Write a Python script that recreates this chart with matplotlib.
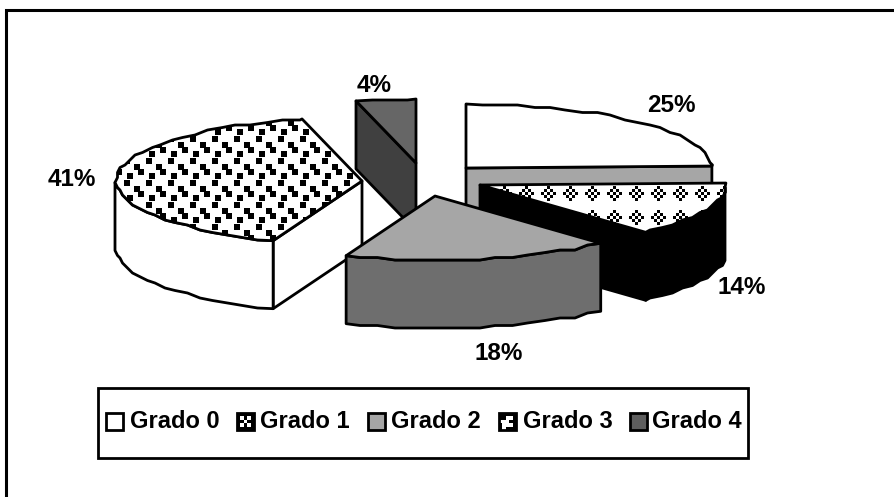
# -*- coding: utf-8 -*-

import numpy as np
import matplotlib
matplotlib.use('Agg')
import matplotlib.pyplot as plt
from matplotlib.patches import Polygon, Rectangle

categories = ['Grado 0', 'Grado 1', 'Grado 2', 'Grado 3', 'Grado 4']
values = [25, 14, 18, 41, 4]
labels = ['25%', '14%', '18%', '41%', '4%']

# pie layout, in pixels
apexes = [(466, 168), (480, 185), (435, 196), (362, 181), (416, 163)]
label_pos = [(671, 106), (742, 288), (499, 354), (72, 180), (374, 86)]
rx, ry = 246, 64
depth = 68

top_colors = ['white', 'white', '#a6a6a6', 'white', '#666666']
wall_colors = ['#a6a6a6', 'black', '#6e6e6e', 'white', '#404040']


def diamond_tile():
    # checkered diamonds on a 22x24 grid
    tile = np.ones((24, 22))
    for dy in range(-2, 3):
        for dx in range(-2, 3):
            if abs(dx) + abs(dy) <= 2 and (dx + dy) % 2 == 0:
                for y in range(3):
                    for x in range(3):
                        tile[(1 + dy * 3 + y - 1) % 24, (20 + dx * 3 + x - 1) % 22] = 0
    return tile


def dot_tile():
    # four small black squares per 22x22 tile
    tile = np.ones((22, 22))
    for cx, cy in [(17, 7), (5, 13), (20, 0), (9, 18)]:
        for y in range(cy - 3, cy + 3):
            for x in range(cx - 3, cx + 3):
                tile[y % 22, x % 22] = 0
    return tile


def fill_pattern(ax, tile, poly):
    rows = 497 // tile.shape[0] + 1
    cols = 895 // tile.shape[1] + 1
    full = np.tile(tile, (rows, cols))[:497, :895]
    im = ax.imshow(full, cmap='gray', vmin=0, vmax=1, extent=(0, 895, 497, 0),
                   interpolation='nearest', zorder=poly.get_zorder())
    im.set_clip_path(poly)


def rim(apex, a0, a1):
    # short steps snapped to a small grid give the rim its rough outline
    t = np.radians(np.arange(a0, a1, 4.0).tolist() + [a1])
    pts = np.column_stack([apex[0] + rx * np.cos(t), apex[1] + ry * np.sin(t)])
    pts[1:-1] = np.round(pts[1:-1] / 2.5) * 2.5
    return pts


fig = plt.figure(figsize=(8.95, 4.97), dpi=100)
ax = fig.add_axes([0, 0, 1, 1])
ax.set_xlim(0, 895)
ax.set_ylim(497, 0)
ax.set_axis_off()
plt.rcParams['font.family'] = ['Liberation Sans', 'DejaVu Sans']

ax.plot([6, 6, 895], [497, 9.5, 9.5], color='black', lw=2.2, zorder=1, solid_joinstyle='miter')

# angles run clockwise on screen, Grado 0 starts at twelve o'clock
shares = np.array(values) / sum(values) * 360.0
starts = 270 + np.concatenate([[0], np.cumsum(shares)[:-1]])
ends = starts + shares

# back to front
order = [4, 0, 3, 1, 2]
z = 2
for i in order:
    apex = np.array(apexes[i], dtype=float)
    edge = rim(apex, starts[i], ends[i])
    down = np.array([0, depth])
    wall_kw = dict(facecolor=wall_colors[i], edgecolor='black', lw=2.0, joinstyle='round')

    # cut faces that look towards the viewer
    if np.cos(np.radians(starts[i])) < -1e-6:
        p = edge[0]
        ax.add_patch(Polygon([apex, p, p + down, apex + down], zorder=z, **wall_kw))
    if np.cos(np.radians(ends[i])) > 1e-6:
        p = edge[-1]
        ax.add_patch(Polygon([apex, p, p + down, apex + down], zorder=z, **wall_kw))
    # outer wall, only the part facing the viewer
    t = np.degrees(np.arctan2(edge[:, 1] - apex[1], edge[:, 0] - apex[0])) % 360
    front = edge[(t > 0) & (t < 180)]
    if len(front) > 1:
        ax.add_patch(Polygon(np.vstack([front, front[::-1] + down]), zorder=z, **wall_kw))
    z += 1

    top = Polygon(np.vstack([apex, edge]), facecolor=top_colors[i], edgecolor='none', zorder=z)
    ax.add_patch(top)
    z += 1
    if i == 1:
        fill_pattern(ax, diamond_tile(), top)
    elif i == 3:
        fill_pattern(ax, dot_tile(), top)
    ax.add_patch(Polygon(np.vstack([apex, edge]), facecolor='none', edgecolor='black', lw=2.0,
                         joinstyle='round', zorder=z))
    z += 1

for text, (x, y) in zip(labels, label_pos):
    ax.text(x, y, text, ha='center', va='center', fontsize=17.5, fontweight='bold', zorder=z)

# legend box
ax.add_patch(Rectangle((98, 388), 650, 70, facecolor='white', edgecolor='black', lw=2.0, zorder=z))
z += 1
swatch_x = [106, 237, 368, 499, 630]
text_x = [130, 260, 391, 523, 652]
swatch_colors = ['white', 'white', '#a6a6a6', 'white', '#5e5e5e']
swatch_marks = {
    1: np.array([[0, 0, 0, 0, 0], [0, 1, 0, 1, 0], [0, 0, 1, 0, 0], [0, 1, 0, 1, 0], [0, 0, 0, 0, 0]]),
    3: np.array([[0, 0, 0, 0, 0], [0, 0, 1, 1, 0], [1, 1, 1, 0, 0], [0, 1, 1, 1, 0], [0, 1, 0, 0, 0]]),
}
for k, (name, sx, c) in enumerate(zip(categories, swatch_x, swatch_colors)):
    if k in swatch_marks:
        ax.imshow(swatch_marks[k], cmap='gray', vmin=0, vmax=1, extent=(sx, sx + 17, 430, 413),
                  interpolation='nearest', zorder=z)
    ax.add_patch(Rectangle((sx, 413), 17, 17, facecolor=c if k not in swatch_marks else 'none',
                           edgecolor='black', lw=2.0, zorder=z + 1))
    ax.text(text_x[k], 422, name, ha='left', va='center', fontsize=17, fontweight='bold', zorder=z + 1)

ax.set_xlim(0, 895)
ax.set_ylim(497, 0)
ax.set_aspect('auto')
fig.savefig('out.png', dpi=100)
